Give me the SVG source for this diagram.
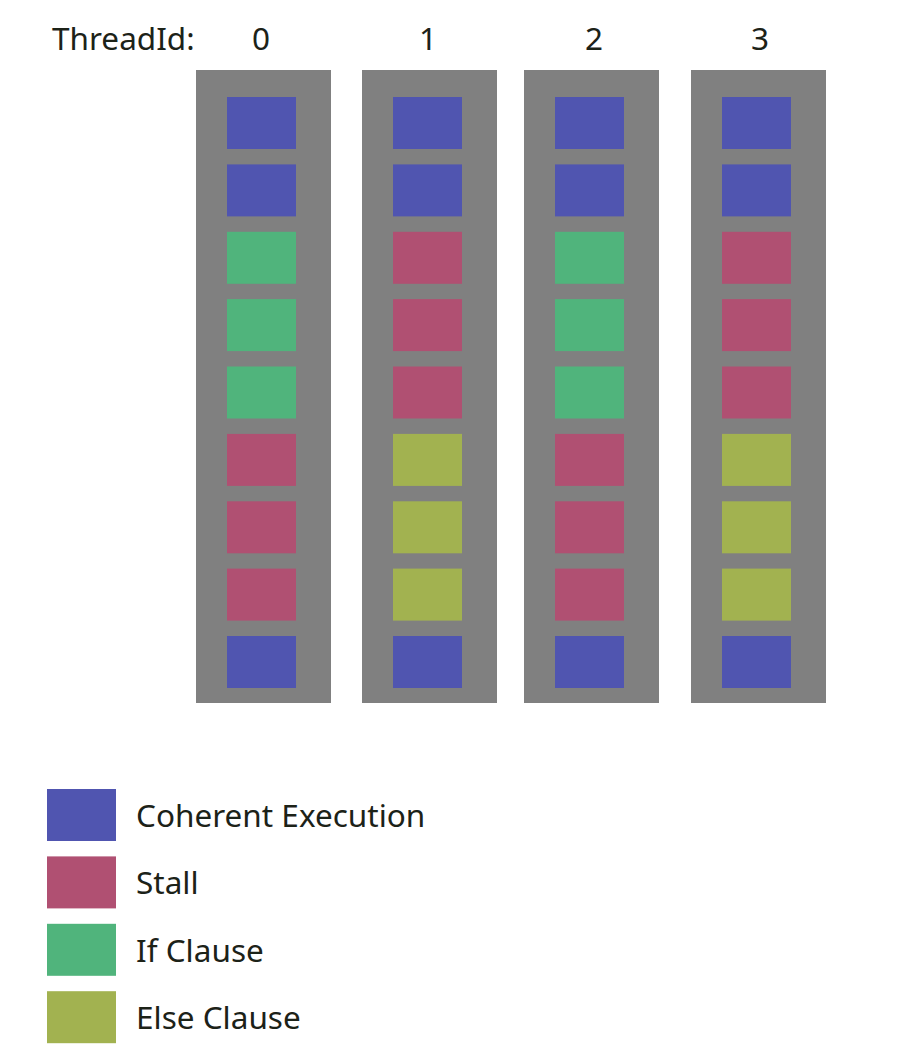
<svg xmlns="http://www.w3.org/2000/svg" width="897" height="1054" viewBox="0 0 897 1054">
<style>
text{font-family:"Noto Sans","Open Sans",sans-serif;font-size:31.5px;fill:#1c2218}
.col{fill:#808080}
.b{fill:#5055b0}.s{fill:#b05072}.g{fill:#50b47c}.e{fill:#a2b250}
.n{text-anchor:middle}
</style>
<rect width="897" height="1054" fill="#fff"/>
<g id="header">
<text x="52" y="50">ThreadId:</text>
<text class="n" x="261" y="50">0</text>
<text class="n" x="428" y="50">1</text>
<text class="n" x="594" y="50">2</text>
<text class="n" x="760" y="50">3</text>
</g>
<g id="thread0">
<rect class="col" x="196" y="70" width="135" height="633"/>
<rect class="b" x="227" y="97" width="69" height="52"/>
<rect class="b" x="227" y="164.4" width="69" height="52"/>
<rect class="g" x="227" y="231.8" width="69" height="52"/>
<rect class="g" x="227" y="299.1" width="69" height="52"/>
<rect class="g" x="227" y="366.5" width="69" height="52"/>
<rect class="s" x="227" y="433.9" width="69" height="52"/>
<rect class="s" x="227" y="501.3" width="69" height="52"/>
<rect class="s" x="227" y="568.6" width="69" height="52"/>
<rect class="b" x="227" y="636" width="69" height="52"/>
</g>
<g id="thread1">
<rect class="col" x="362" y="70" width="135" height="633"/>
<rect class="b" x="393" y="97" width="69" height="52"/>
<rect class="b" x="393" y="164.4" width="69" height="52"/>
<rect class="s" x="393" y="231.8" width="69" height="52"/>
<rect class="s" x="393" y="299.1" width="69" height="52"/>
<rect class="s" x="393" y="366.5" width="69" height="52"/>
<rect class="e" x="393" y="433.9" width="69" height="52"/>
<rect class="e" x="393" y="501.3" width="69" height="52"/>
<rect class="e" x="393" y="568.6" width="69" height="52"/>
<rect class="b" x="393" y="636" width="69" height="52"/>
</g>
<g id="thread2">
<rect class="col" x="524" y="70" width="135" height="633"/>
<rect class="b" x="555" y="97" width="69" height="52"/>
<rect class="b" x="555" y="164.4" width="69" height="52"/>
<rect class="g" x="555" y="231.8" width="69" height="52"/>
<rect class="g" x="555" y="299.1" width="69" height="52"/>
<rect class="g" x="555" y="366.5" width="69" height="52"/>
<rect class="s" x="555" y="433.9" width="69" height="52"/>
<rect class="s" x="555" y="501.3" width="69" height="52"/>
<rect class="s" x="555" y="568.6" width="69" height="52"/>
<rect class="b" x="555" y="636" width="69" height="52"/>
</g>
<g id="thread3">
<rect class="col" x="691" y="70" width="135" height="633"/>
<rect class="b" x="722" y="97" width="69" height="52"/>
<rect class="b" x="722" y="164.4" width="69" height="52"/>
<rect class="s" x="722" y="231.8" width="69" height="52"/>
<rect class="s" x="722" y="299.1" width="69" height="52"/>
<rect class="s" x="722" y="366.5" width="69" height="52"/>
<rect class="e" x="722" y="433.9" width="69" height="52"/>
<rect class="e" x="722" y="501.3" width="69" height="52"/>
<rect class="e" x="722" y="568.6" width="69" height="52"/>
<rect class="b" x="722" y="636" width="69" height="52"/>
</g>
<g id="legend">
<rect class="b" x="47" y="789" width="69" height="52"/>
<text x="136" y="827">Coherent Execution</text>
<rect class="s" x="47" y="856.4" width="69" height="52"/>
<text x="136" y="894">Stall</text>
<rect class="g" x="47" y="923.8" width="69" height="52"/>
<text x="136" y="962">If Clause</text>
<rect class="e" x="47" y="991.2" width="69" height="52"/>
<text x="136" y="1029">Else Clause</text>
</g>
</svg>
